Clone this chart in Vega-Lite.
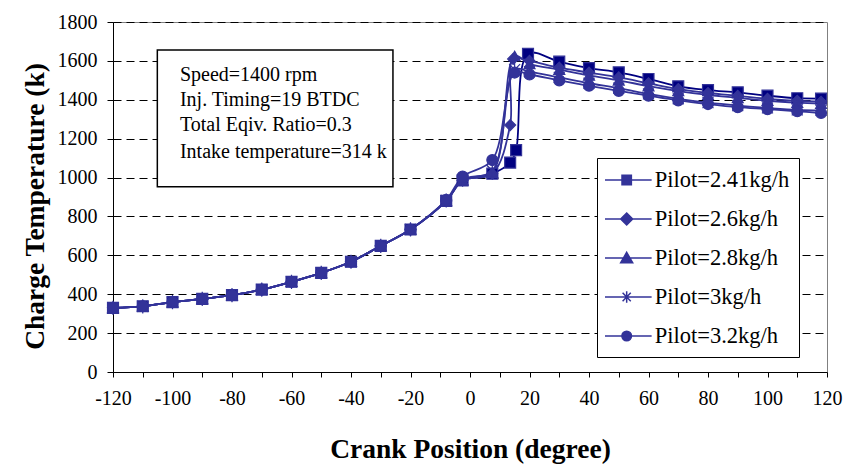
{
  "$schema": "https://vega.github.io/schema/vega-lite/v6.json",
  "width": 714,
  "height": 350,
  "autosize": "none",
  "padding": {"left": 113, "top": 22, "right": 18, "bottom": 92},
  "background": "white",
  "config": {
    "font": "Liberation Serif",
    "view": {"stroke": "#808080", "strokeWidth": 1},
    "axis": {
      "domainColor": "#000", "domainWidth": 1, "tickColor": "#000", "tickWidth": 1,
      "labelFont": "Liberation Serif", "labelFontSize": 20, "labelColor": "#000",
      "labelExpr": "'' + datum.value",
      "titleFont": "Liberation Serif", "titleFontSize": 27.5, "titleFontWeight": "bold", "titleColor": "#000"
    },
    "axisX": {"values": [-120, -80, -40, 0, 40, 80, 120], "grid": false, "tickSize": 5, "labelPadding": 11, "labelFlush": false,
      "titleX": 357, "titleY": 85, "titleBaseline": "alphabetic", "titleAlign": "center", "titleAnchor": null},
    "axisY": {"values": [0, 200, 400, 600, 800, 1000, 1200, 1400, 1600, 1800], "grid": true, "gridDash": [8, 5], "gridColor": "#000", "gridWidth": 1,
      "tickSize": 6, "labelPadding": 10, "titleX": -78, "titleY": 184, "titleAngle": 270, "titleAlign": "center", "titleBaseline": "middle"},
    "legend": {
      "orient": "none", "legendX": 484, "legendY": 136,
      "labelFont": "Liberation Serif", "labelFontSize": 22.5, "labelColor": "#000",
      "symbolSize": 576, "labelOffset": 22.7, "padding": 9, "rowPadding": 14,
      "strokeColor": "#000", "fillColor": "white", "symbolStrokeWidth": 1.5
    }
  },
  "datasets": {
    "curves": [
      {"s":"Pilot=2.41kg/h","x":-120,"y":330},{"s":"Pilot=2.41kg/h","x":-110,"y":338},{"s":"Pilot=2.41kg/h","x":-100,"y":359},{"s":"Pilot=2.41kg/h","x":-90,"y":376},{"s":"Pilot=2.41kg/h","x":-80,"y":395},{"s":"Pilot=2.41kg/h","x":-70,"y":424},{"s":"Pilot=2.41kg/h","x":-60,"y":464},{"s":"Pilot=2.41kg/h","x":-50,"y":510},{"s":"Pilot=2.41kg/h","x":-40,"y":567},{"s":"Pilot=2.41kg/h","x":-30,"y":649},{"s":"Pilot=2.41kg/h","x":-20,"y":733},{"s":"Pilot=2.41kg/h","x":-8,"y":880},{"s":"Pilot=2.41kg/h","x":-2.5,"y":985},{"s":"Pilot=2.41kg/h","x":7.5,"y":1020},{"s":"Pilot=2.41kg/h","x":13.5,"y":1077},{"s":"Pilot=2.41kg/h","x":15.5,"y":1141},{"s":"Pilot=2.41kg/h","x":19.5,"y":1636},{"s":"Pilot=2.41kg/h","x":30,"y":1596},{"s":"Pilot=2.41kg/h","x":40,"y":1563},{"s":"Pilot=2.41kg/h","x":50,"y":1541},{"s":"Pilot=2.41kg/h","x":60,"y":1507},{"s":"Pilot=2.41kg/h","x":70,"y":1469},{"s":"Pilot=2.41kg/h","x":80,"y":1450},{"s":"Pilot=2.41kg/h","x":90,"y":1438},{"s":"Pilot=2.41kg/h","x":100,"y":1421},{"s":"Pilot=2.41kg/h","x":110,"y":1408},{"s":"Pilot=2.41kg/h","x":118,"y":1406},
      {"s":"Pilot=2.6kg/h","x":-120,"y":330},{"s":"Pilot=2.6kg/h","x":-110,"y":338},{"s":"Pilot=2.6kg/h","x":-100,"y":359},{"s":"Pilot=2.6kg/h","x":-90,"y":376},{"s":"Pilot=2.6kg/h","x":-80,"y":395},{"s":"Pilot=2.6kg/h","x":-70,"y":424},{"s":"Pilot=2.6kg/h","x":-60,"y":464},{"s":"Pilot=2.6kg/h","x":-50,"y":510},{"s":"Pilot=2.6kg/h","x":-40,"y":567},{"s":"Pilot=2.6kg/h","x":-30,"y":649},{"s":"Pilot=2.6kg/h","x":-20,"y":733},{"s":"Pilot=2.6kg/h","x":-8,"y":880},{"s":"Pilot=2.6kg/h","x":-2.5,"y":985},{"s":"Pilot=2.6kg/h","x":7.5,"y":1020},{"s":"Pilot=2.6kg/h","x":13.5,"y":1270},{"s":"Pilot=2.6kg/h","x":14.5,"y":1610},{"s":"Pilot=2.6kg/h","x":20,"y":1600},{"s":"Pilot=2.6kg/h","x":30,"y":1565},{"s":"Pilot=2.6kg/h","x":40,"y":1540},{"s":"Pilot=2.6kg/h","x":50,"y":1515},{"s":"Pilot=2.6kg/h","x":60,"y":1485},{"s":"Pilot=2.6kg/h","x":70,"y":1455},{"s":"Pilot=2.6kg/h","x":80,"y":1435},{"s":"Pilot=2.6kg/h","x":90,"y":1420},{"s":"Pilot=2.6kg/h","x":100,"y":1405},{"s":"Pilot=2.6kg/h","x":110,"y":1395},{"s":"Pilot=2.6kg/h","x":118,"y":1390},
      {"s":"Pilot=2.8kg/h","x":-120,"y":330},{"s":"Pilot=2.8kg/h","x":-110,"y":338},{"s":"Pilot=2.8kg/h","x":-100,"y":359},{"s":"Pilot=2.8kg/h","x":-90,"y":376},{"s":"Pilot=2.8kg/h","x":-80,"y":395},{"s":"Pilot=2.8kg/h","x":-70,"y":424},{"s":"Pilot=2.8kg/h","x":-60,"y":464},{"s":"Pilot=2.8kg/h","x":-50,"y":510},{"s":"Pilot=2.8kg/h","x":-40,"y":567},{"s":"Pilot=2.8kg/h","x":-30,"y":649},{"s":"Pilot=2.8kg/h","x":-20,"y":733},{"s":"Pilot=2.8kg/h","x":-8,"y":880},{"s":"Pilot=2.8kg/h","x":-2.5,"y":985},{"s":"Pilot=2.8kg/h","x":7.5,"y":1025},{"s":"Pilot=2.8kg/h","x":15,"y":1625},{"s":"Pilot=2.8kg/h","x":20,"y":1585},{"s":"Pilot=2.8kg/h","x":30,"y":1555},{"s":"Pilot=2.8kg/h","x":40,"y":1525},{"s":"Pilot=2.8kg/h","x":50,"y":1500},{"s":"Pilot=2.8kg/h","x":60,"y":1470},{"s":"Pilot=2.8kg/h","x":70,"y":1445},{"s":"Pilot=2.8kg/h","x":80,"y":1425},{"s":"Pilot=2.8kg/h","x":90,"y":1410},{"s":"Pilot=2.8kg/h","x":100,"y":1395},{"s":"Pilot=2.8kg/h","x":110,"y":1385},{"s":"Pilot=2.8kg/h","x":118,"y":1380},
      {"s":"Pilot=3kg/h","x":-120,"y":330},{"s":"Pilot=3kg/h","x":-110,"y":338},{"s":"Pilot=3kg/h","x":-100,"y":359},{"s":"Pilot=3kg/h","x":-90,"y":376},{"s":"Pilot=3kg/h","x":-80,"y":395},{"s":"Pilot=3kg/h","x":-70,"y":424},{"s":"Pilot=3kg/h","x":-60,"y":464},{"s":"Pilot=3kg/h","x":-50,"y":510},{"s":"Pilot=3kg/h","x":-40,"y":567},{"s":"Pilot=3kg/h","x":-30,"y":649},{"s":"Pilot=3kg/h","x":-20,"y":733},{"s":"Pilot=3kg/h","x":-8,"y":882},{"s":"Pilot=3kg/h","x":-2.5,"y":990},{"s":"Pilot=3kg/h","x":7.5,"y":1035},{"s":"Pilot=3kg/h","x":15,"y":1555},{"s":"Pilot=3kg/h","x":20,"y":1545},{"s":"Pilot=3kg/h","x":30,"y":1515},{"s":"Pilot=3kg/h","x":40,"y":1485},{"s":"Pilot=3kg/h","x":50,"y":1460},{"s":"Pilot=3kg/h","x":60,"y":1430},{"s":"Pilot=3kg/h","x":70,"y":1405},{"s":"Pilot=3kg/h","x":80,"y":1385},{"s":"Pilot=3kg/h","x":90,"y":1370},{"s":"Pilot=3kg/h","x":100,"y":1358},{"s":"Pilot=3kg/h","x":110,"y":1348},{"s":"Pilot=3kg/h","x":118,"y":1345},
      {"s":"Pilot=3.2kg/h","x":-120,"y":330},{"s":"Pilot=3.2kg/h","x":-110,"y":338},{"s":"Pilot=3.2kg/h","x":-100,"y":359},{"s":"Pilot=3.2kg/h","x":-90,"y":376},{"s":"Pilot=3.2kg/h","x":-80,"y":395},{"s":"Pilot=3.2kg/h","x":-70,"y":424},{"s":"Pilot=3.2kg/h","x":-60,"y":464},{"s":"Pilot=3.2kg/h","x":-50,"y":510},{"s":"Pilot=3.2kg/h","x":-40,"y":567},{"s":"Pilot=3.2kg/h","x":-30,"y":649},{"s":"Pilot=3.2kg/h","x":-20,"y":733},{"s":"Pilot=3.2kg/h","x":-8,"y":885},{"s":"Pilot=3.2kg/h","x":-2.5,"y":1005},{"s":"Pilot=3.2kg/h","x":7.5,"y":1090},{"s":"Pilot=3.2kg/h","x":15,"y":1540},{"s":"Pilot=3.2kg/h","x":20,"y":1530},{"s":"Pilot=3.2kg/h","x":30,"y":1500},{"s":"Pilot=3.2kg/h","x":40,"y":1472},{"s":"Pilot=3.2kg/h","x":50,"y":1446},{"s":"Pilot=3.2kg/h","x":60,"y":1421},{"s":"Pilot=3.2kg/h","x":70,"y":1397},{"s":"Pilot=3.2kg/h","x":80,"y":1378},{"s":"Pilot=3.2kg/h","x":90,"y":1362},{"s":"Pilot=3.2kg/h","x":100,"y":1352},{"s":"Pilot=3.2kg/h","x":110,"y":1341},{"s":"Pilot=3.2kg/h","x":118,"y":1332}
    ],
    "box": [{"x1": -105.1, "x2": -25.9, "y1": 953, "y2": 1656}],
    "notes": [
      {"x": -97.5, "y": 1527, "t": "Speed=1400 rpm"},
      {"x": -97.5, "y": 1399, "t": "Inj. Timing=19 BTDC"},
      {"x": -97.5, "y": 1270, "t": "Total Eqiv. Ratio=0.3"},
      {"x": -97.5, "y": 1133, "t": "Intake temperature=314 k"}
    ],
    "none": []
  },
  "resolve": {"scale": {"shape": "independent"}},
  "layer": [
    {
      "data": {"name": "curves"},
      "mark": {"type": "line", "interpolate": "catmull-rom", "strokeWidth": 1.8},
      "encoding": {
        "x": {"field": "x", "type": "quantitative", "scale": {"domain": [-120, 120], "nice": false}, "title": "Crank Position (degree)",
          "axis": {"labelFont": "Liberation Serif", "titleFont": "Liberation Serif"}},
        "y": {"field": "y", "type": "quantitative", "scale": {"domain": [0, 1800], "nice": false}, "title": "Charge Temperature (k)",
          "axis": {"labelFont": "Liberation Serif", "titleFont": "Liberation Serif"}},
        "color": {"field": "s", "type": "nominal",
          "scale": {"domain": ["Pilot=2.41kg/h", "Pilot=2.6kg/h", "Pilot=2.8kg/h", "Pilot=3kg/h", "Pilot=3.2kg/h"], "range": ["#000080", "#333399", "#333399", "#333399", "#333399"]},
          "legend": null},
        "detail": {"field": "s"}
      }
    },
    {
      "data": {"name": "curves"},
      "transform": [{"calculate": "datum.s", "as": "m"}],
      "mark": {"type": "point", "filled": true, "size": 120, "strokeWidth": 1.2, "opacity": 1},
      "encoding": {
        "x": {"field": "x", "type": "quantitative", "title": "Crank Position (degree)"},
        "y": {"field": "y", "type": "quantitative", "title": "Charge Temperature (k)"},
        "color": {"field": "s", "type": "nominal", "legend": null},
        "stroke": {"field": "m", "type": "nominal", "scale": {"domain": ["Pilot=2.41kg/h", "Pilot=2.6kg/h", "Pilot=2.8kg/h", "Pilot=3kg/h", "Pilot=3.2kg/h"], "range": ["#333399", "#333399", "#333399", "#333399", "#333399"]}, "legend": null},
        "shape": {"field": "m", "type": "nominal", "legend": null,
          "scale": {"domain": ["Pilot=2.41kg/h", "Pilot=2.6kg/h", "Pilot=2.8kg/h", "Pilot=3kg/h", "Pilot=3.2kg/h"], "range": ["square", "diamond", "triangle-up", "M-1,-1L1,1M-1,1L1,-1M0,-1.3V1.3", "circle"]}}
      }
    },
    {
      "data": {"name": "none"},
      "mark": {"type": "point", "filled": false, "fill": "#333399", "stroke": "#333399", "strokeWidth": 1.5, "opacity": 1},
      "encoding": {
        "x": {"field": "x", "type": "quantitative", "title": "Crank Position (degree)"},
        "y": {"field": "y", "type": "quantitative", "title": "Charge Temperature (k)"},
        "shape": {"field": "s", "type": "nominal",
          "scale": {"domain": ["Pilot=2.41kg/h", "Pilot=2.6kg/h", "Pilot=2.8kg/h", "Pilot=3kg/h", "Pilot=3.2kg/h"],
            "range": ["M-1.17,0H2.72M0.25,-0.39H1.03V0.39H0.25Z", "M-1.17,0H2.72M0.64,-0.5L1.14,0L0.64,0.5L0.14,0Z", "M-1.17,0H2.72M0.64,-0.47L1.14,0.4H0.14Z", "M-1.17,0H2.72M0.3,-0.36L0.98,0.36M0.3,0.36L0.98,-0.36M0.64,-0.48V0.48", "M-1.17,0H2.72M0.24,0A0.4,0.4 0 1,0 1.04,0A0.4,0.4 0 1,0 0.24,0Z"]},
          "legend": {"title": null, "labelFont": "Liberation Serif", "labelFontSize": 22.5}}
      }
    },
    {
      "data": {"name": "box"},
      "mark": {"type": "rect", "fill": "white", "stroke": "#000", "strokeWidth": 1.5},
      "encoding": {
        "x": {"field": "x1", "type": "quantitative", "title": "Crank Position (degree)"},
        "x2": {"field": "x2"},
        "y": {"field": "y1", "type": "quantitative", "title": "Charge Temperature (k)"},
        "y2": {"field": "y2"}
      }
    },
    {
      "data": {"name": "notes"},
      "mark": {"type": "text", "align": "left", "baseline": "middle", "font": "Liberation Serif", "fontSize": 20, "color": "#000"},
      "encoding": {
        "x": {"field": "x", "type": "quantitative", "title": "Crank Position (degree)"},
        "y": {"field": "y", "type": "quantitative", "title": "Charge Temperature (k)"},
        "text": {"field": "t"}
      }
    }
  ]
}
